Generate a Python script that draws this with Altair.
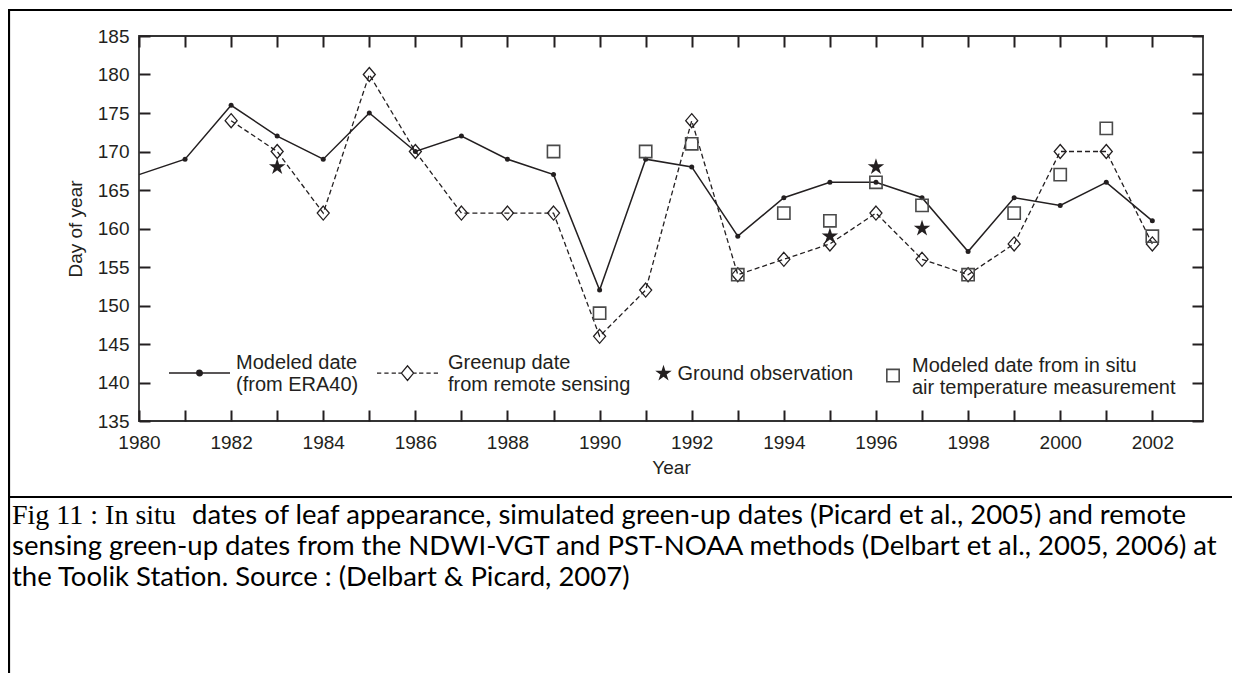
import altair as alt
import pandas as pd

# ---------------- data ----------------
years = list(range(1980, 2003))
modeled = [167, 169, 176, 172, 169, 175, 170, 172, 169, 167, 152, 169,
           168, 159, 164, 166, 166, 164, 157, 164, 163, 166, 161]

green_years = list(range(1982, 2003))
greenup = [174, 170, 162, 180, 170, 162, 162, 162, 146, 152, 174,
           154, 156, 158, 162, 156, 154, 158, 170, 170, 158]

ground_years = [1983, 1995, 1996, 1997]
ground = [168, 159, 168, 160]

insitu_years = list(range(1989, 2003))
insitu = [170, 149, 170, 171, 154, 162, 161, 166, 163, 154, 162, 167, 173, 159]

legend_labels = [
    "Modeled date|(from ERA40)",
    "Greenup date|from remote sensing",
    "Ground observation",
    "Modeled date from in situ|air temperature measurement",
]

x_ticks = years
y_ticks = list(range(135, 186, 5))

caption_serif = "Fig 11 : In situ"
caption_lines = [
    "dates of leaf appearance, simulated green-up dates (Picard et al., 2005) and remote",
    "sensing green-up dates from the NDWI-VGT and PST-NOAA methods (Delbart et al., 2005, 2006) at",
    "the Toolik Station. Source : (Delbart & Picard, 2007)",
]

# ---------------- style ----------------
INK = "#231f20"
FONT = "Liberation Sans"
CAP_FONT = "Lato"
CAP_SIZE = 27.5
W, H = 1064, 385

STAR = ("M0,-1L0.2234,-0.3074L0.951,-0.309L0.3614,0.1174L0.588,0.809L0,0.38"
        "L-0.588,0.809L-0.3614,0.1174L-0.951,-0.309L-0.2234,-0.3074Z")
DIAMOND = "M0,-1L0.857,0L0,1L-0.857,0Z"
# legend symbols (drawn 10px below the symbol centre so that the two-line labels sit centred)
SYM_MODELED = ("M-1,0.33L1,0.33M0.09,0.33A0.09,0.09 0 1,1 -0.09,0.33"
               "A0.09,0.09 0 1,1 0.09,0.33Z")
SYM_GREEN = ("M-1,0.33L-0.86,0.33M-0.76,0.33L-0.62,0.33M-0.52,0.33L-0.38,0.33"
             "M-0.3,0.33L-0.2,0.33"
             "M-0.2,0.33L0,0.09L0.2,0.33L0,0.57Z"
             "M0.2,0.33L0.3,0.33M0.38,0.33L0.52,0.33M0.62,0.33L0.76,0.33M0.86,0.33L1,0.33")
SYM_SQUARE = "M-0.95,0.59L0.95,0.59L0.95,2.49L-0.95,2.49Z"

xs = alt.Scale(domain=[1980, 2003.1], nice=False, zero=False)
ys = alt.Scale(domain=[135, 185], nice=False, zero=False)

df_mod = pd.DataFrame({"year": years, "day": modeled, "series": legend_labels[0]})
df_green = pd.DataFrame({"year": green_years, "day": greenup, "series": legend_labels[1]})
df_ground = pd.DataFrame({"year": ground_years, "day": ground, "series": legend_labels[2]})
df_insitu = pd.DataFrame({"year": insitu_years, "day": insitu, "series": legend_labels[3]})
one = pd.DataFrame({"k": [0]})

ax_common = dict(grid=False, domain=False, tickColor=INK, tickWidth=2, tickSize=11,
                 labelFont=FONT, labelFontSize=19, labelColor=INK,
                 titleFont=FONT, titleFontSize=19, titleFontWeight="normal",
                 titleColor=INK, labelFlush=False, labelOverlap=False)

x_bottom = alt.Axis(orient="bottom", values=x_ticks, format="d",
                    labelExpr="datum.value % 2 == 0 ? datum.label : ''",
                    offset=-11, labelPadding=12, title="Year", titlePadding=6,
                    **ax_common)
y_left = alt.Axis(orient="left", values=y_ticks, offset=-11, labelPadding=10,
                  title="Day of year", titlePadding=12, **ax_common)
x_top = alt.Axis(orient="top", values=x_ticks, labels=False, title=None,
                 offset=-11, **ax_common)
y_right = alt.Axis(orient="right", values=y_ticks, labels=False, title=None,
                   offset=-11, **ax_common)


def legend(x, y, sym, size, fill, stroke, sw, lo):
    return alt.Legend(orient="none", legendX=x, legendY=y, title=None,
                      symbolType=sym, symbolSize=size, symbolFillColor=fill,
                      symbolStrokeColor=stroke, symbolStrokeWidth=sw,
                      symbolOpacity=1, labelOffset=lo, padding=0,
                      labelExpr="split(datum.label, '|')", labelLimit=500,
                      labelFont=FONT, labelFontSize=20, labelColor=INK)


op_scale = alt.Scale(range=[1, 1])

line_mod = alt.Chart(df_mod).mark_line(color=INK, strokeWidth=1.5).encode(
    x=alt.X("year:Q", scale=xs, axis=x_bottom),
    y=alt.Y("day:Q", scale=ys, axis=y_left),
    opacity=alt.Opacity("series:N", scale=op_scale,
                        legend=legend(29, 295.5, SYM_MODELED, 3721, INK, INK, 1.5, 5)),
)
axes2 = alt.Chart(df_mod).mark_line(opacity=0).encode(
    x=alt.X("year:Q", scale=xs, axis=x_top),
    y=alt.Y("day:Q", scale=ys, axis=y_right),
)
line_green = alt.Chart(df_green).mark_line(color=INK, strokeWidth=1.3,
                                           strokeDash=[5, 3]).encode(
    x=alt.X("year:Q", scale=xs, axis=None),
    y=alt.Y("day:Q", scale=ys, axis=None),
)
dots = alt.Chart(df_mod).transform_filter("datum.year > 1980").mark_point(
    filled=True, color=INK, size=25, opacity=1).encode(
    x=alt.X("year:Q", scale=xs, axis=None),
    y=alt.Y("day:Q", scale=ys, axis=None),
)
diamonds = alt.Chart(df_green).mark_point(
    shape=DIAMOND, filled=False, color=INK, strokeWidth=1.3, size=196).encode(
    x=alt.X("year:Q", scale=xs, axis=None),
    y=alt.Y("day:Q", scale=ys, axis=None),
    opacity=alt.Opacity("series:N", scale=op_scale,
                        legend=legend(237, 295.5, SYM_GREEN, 3721, "white", INK, 1.3, 9)),
)
squares = alt.Chart(df_insitu).mark_point(
    shape="square", filled=False, color="#4a4a4a", strokeWidth=1.6, size=150).encode(
    x=alt.X("year:Q", scale=xs, axis=None),
    y=alt.Y("day:Q", scale=ys, axis=None),
    opacity=alt.Opacity("series:N", scale=op_scale,
                        legend=legend(744, 319.5, SYM_SQUARE, 169, "white", "#4a4a4a", 1.6, 9)),
)
stars = alt.Chart(df_ground).mark_point(
    shape=STAR, filled=True, color=INK, size=300).encode(
    x=alt.X("year:Q", scale=xs, axis=None),
    y=alt.Y("day:Q", scale=ys, axis=None),
    opacity=alt.Opacity("series:N", scale=op_scale,
                        legend=legend(514.5, 327.5, STAR, 300, INK, INK, 0.5, 4)),
)

# ---------------- page decoration (frame, separator, caption) ----------------
top_line = alt.Chart(one).mark_rule(color="black", strokeWidth=2.2).encode(
    x=alt.value(-131), x2=alt.value(1093), y=alt.value(-26))
left_line = alt.Chart(one).mark_rule(color="black", strokeWidth=2.2).encode(
    x=alt.value(-130), y=alt.value(-27), y2=alt.value(637))
sep_line = alt.Chart(one).mark_rule(color="black", strokeWidth=2.2).encode(
    x=alt.value(-131), x2=alt.value(1093), y=alt.value(461))

cap0 = alt.Chart(one).mark_text(align="left", baseline="middle",
                                font="Liberation Serif", fontSize=28, color="black").encode(
    x=alt.value(-127), y=alt.value(480), text=alt.value(caption_serif))
cap1 = alt.Chart(one).mark_text(align="left", baseline="middle",
                                font=CAP_FONT, fontSize=CAP_SIZE, color="black").encode(
    x=alt.value(53), y=alt.value(480), text=alt.value(caption_lines[0]))
cap2 = alt.Chart(one).mark_text(align="left", baseline="middle",
                                font=CAP_FONT, fontSize=CAP_SIZE, color="black").encode(
    x=alt.value(-127), y=alt.value(511), text=alt.value(caption_lines[1]))
cap3 = alt.Chart(one).mark_text(align="left", baseline="middle",
                                font=CAP_FONT, fontSize=CAP_SIZE, color="black").encode(
    x=alt.value(-127), y=alt.value(542), text=alt.value(caption_lines[2]))

chart = alt.layer(
    line_mod, axes2, line_green, dots, diamonds, squares, stars,
    top_line, left_line, sep_line, cap0, cap1, cap2, cap3,
).resolve_scale(opacity="independent").resolve_axis(
    x="independent", y="independent").resolve_legend(opacity="independent").properties(
    width=W, height=H,
    autosize=alt.AutoSizeParams(type="none"),
    padding={"left": 131, "top": 28, "right": 29, "bottom": 252},
).configure_view(stroke="#333333", strokeWidth=1.8)

chart.save("out.html", embed_options={"renderer": "svg", "actions": False})
